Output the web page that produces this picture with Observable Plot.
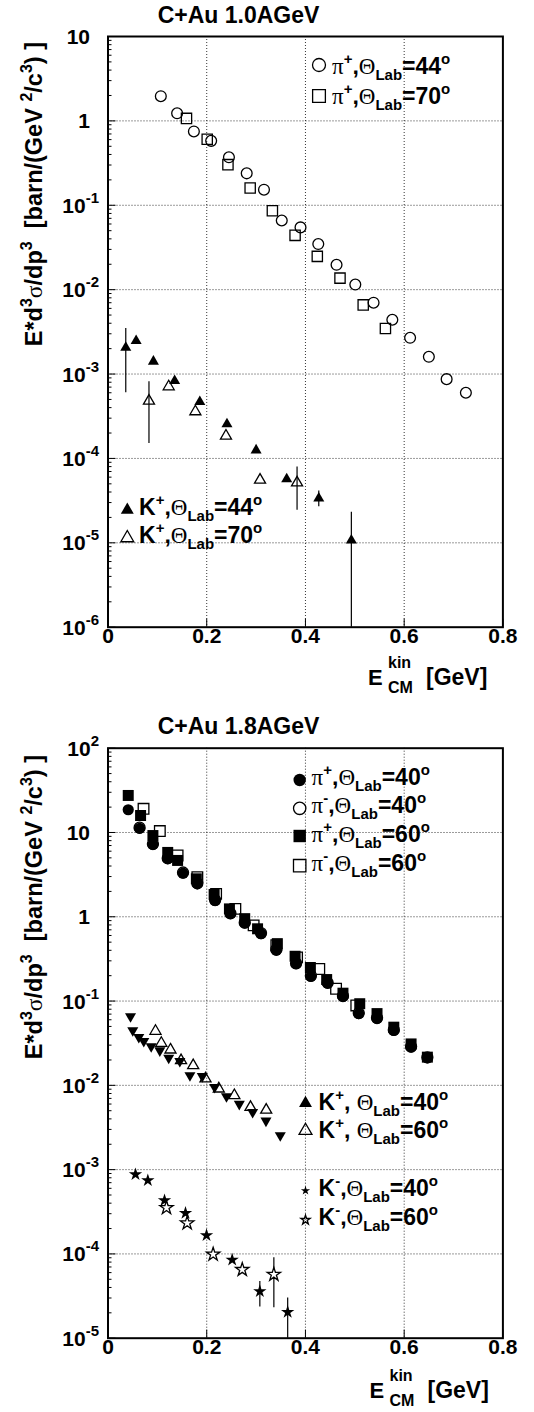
<!DOCTYPE html>
<html><head><meta charset="utf-8">
<script src="https://cdn.jsdelivr.net/npm/d3@7"></script>
<script src="https://cdn.jsdelivr.net/npm/@observablehq/plot@0.6"></script>
<style>
html,body{margin:0;padding:0;background:#fff;}
#wrap{position:relative;width:534px;height:1412px;overflow:hidden;}
#wrap svg{position:absolute;left:0;}
</style></head><body><div id="wrap"></div>
<script>
// ---------- DATA: panel 1 (C+Au 1.0 AGeV) ----------
const pip44_x = [0.107,0.140,0.174,0.209,0.245,0.281,0.316,0.352,0.390,0.426,0.463,0.501,0.538,0.576,0.612,0.650,0.686,0.725];
const pip44_y = [1.96,1.23,0.75,0.58,0.37,0.239,0.153,0.066,0.0547,0.0347,0.0197,0.0115,0.0070,0.0044,0.00269,0.0016,0.00087,0.0006];
const pip70_x = [0.159,0.201,0.243,0.288,0.333,0.379,0.424,0.470,0.517,0.562];
const pip70_y = [1.07,0.605,0.303,0.16,0.086,0.044,0.0248,0.0137,0.0066,0.00347];
const kp44_x = [0.036,0.057,0.092,0.135,0.186,0.241,0.300,0.362,0.427,0.493];
const kp44_y = [0.00206,0.00248,0.00141,0.00083,0.000468,0.000255,0.000125,5.7e-5,3.37e-5,1.07e-5];
const kp44_err_x = [0.036,0.427,0.493];
const kp44_err_lo = [0.0006,2.68e-5,1e-7];
const kp44_err_hi = [0.00347,4.1e-5,2.3e-5];
const kp70_x = [0.083,0.123,0.177,0.239,0.308,0.383];
const kp70_y = [0.00048,0.00071,0.000359,0.000185,5.56e-5,5.16e-5];
const kp70_err_x = [0.083,0.383];
const kp70_err_lo = [0.00015,2.43e-5];
const kp70_err_hi = [0.00081,7.9e-5];

// ---------- DATA: panel 2 (C+Au 1.8 AGeV) ----------
const pip60_x = [0.041,0.066,0.091,0.121,0.141,0.179,0.215,0.246,0.277,0.303,0.343,0.379,0.410,0.443,0.476,0.510,0.545,0.579,0.614,0.647];
const pip60_y = [27.5,15.9,9.2,5.8,4.66,2.82,1.84,1.24,0.95,0.72,0.48,0.34,0.25,0.18,0.124,0.093,0.071,0.049,0.031,0.0216];
const pip40_x = [0.041,0.064,0.091,0.121,0.152,0.181,0.217,0.248,0.277,0.310,0.341,0.381,0.411,0.445,0.476,0.508,0.545,0.579,0.614,0.647];
const pip40_y = [18.6,11.2,7.2,4.88,3.29,2.46,1.56,1.09,0.84,0.63,0.40,0.277,0.196,0.163,0.113,0.071,0.062,0.0448,0.0284,0.0212];
const pim60_x = [0.072,0.105,0.141,0.181,0.219,0.258,0.295,0.341,0.383,0.428,0.462,0.503];
const pim60_y = [19.1,10.4,5.33,2.95,1.87,1.24,0.79,0.46,0.33,0.24,0.14,0.0887];
const pim40_x = [0.064,0.091,0.121,0.152,0.181,0.217,0.248,0.277,0.310,0.341,0.381,0.411,0.445,0.476,0.508,0.545,0.579,0.614,0.647];
const pim40_y = [11.4,7.3,4.95,3.35,2.5,1.58,1.1,0.85,0.64,0.41,0.28,0.2,0.165,0.115,0.072,0.063,0.0455,0.0288,0.0215];
const kp40_x = [0.0456,0.0502,0.0624,0.0725,0.0875,0.105,0.123,0.1455,0.166,0.191,0.216,0.240,0.266,0.293,0.320,0.349];
const kp40_y = [0.0656,0.0448,0.0373,0.0334,0.0289,0.0259,0.0212,0.0194,0.0131,0.0128,0.0095,0.0074,0.0060,0.0048,0.0038,0.00255];
const kp60_x = [0.0962,0.108,0.1266,0.148,0.1726,0.1975,0.2245,0.256,0.2887,0.3205];
const kp60_y = [0.044,0.0317,0.0264,0.0197,0.0172,0.012,0.0091,0.0076,0.0055,0.0051];
const km40_x = [0.0557,0.0807,0.1145,0.157,0.1996,0.2516,0.3076,0.364];
const km40_y = [0.000877,0.000745,0.000431,0.000305,0.000166,8.5e-5,3.6e-5,2.04e-5];
const km40_err_x = [0.3076,0.364];
const km40_err_lo = [2.34e-5,1e-6];
const km40_err_hi = [4.7e-5,3.0e-5];
const km60_x = [0.1185,0.1604,0.213,0.272,0.336];
const km60_y = [0.000353,0.000232,9.9e-5,6.5e-5,5.7e-5];
const km60_err_x = [0.336];
const km60_err_lo = [2.3e-5];
const km60_err_hi = [9.0e-5];

// ---------- ticks / labels ----------
const xTicks = [0,0.2,0.4,0.6,0.8];
const xTickLabels = ["0","0.2","0.4","0.6","0.8"];
const xGrid = [0.2,0.4,0.6];
const p1Decades = [1e-6,1e-5,1e-4,1e-3,1e-2,1e-1,1,10];
const p1TickBase = ["10","10","10","10","10","10","1","10"];
const p1TickExp  = ["-6","-5","-4","-3","-2","-1","",""];
const p2Decades = [1e-5,1e-4,1e-3,1e-2,1e-1,1,10,100];
const p2TickBase = ["10","10","10","10","10","1","10","10"];
const p2TickExp  = ["-5","-4","-3","-2","-1","","","2"];

// ---------- helpers ----------
const SANS = "'Liberation Sans', Arial, Helvetica, sans-serif";
const SERIF = "'Liberation Serif', 'Times New Roman', serif";
const rows = (xs, ys) => xs.map((x, i) => ({x, y: ys[i]}));
const errRows = (xs, lo, hi) => xs.map((x, i) => ({x, lo: lo[i], hi: hi[i]}));
const triDown = {draw(ctx, size) {
  const y = -Math.sqrt(size / (Math.sqrt(3) * 3));
  ctx.moveTo(0, -2 * y); ctx.lineTo(Math.sqrt(3) * y, y); ctx.lineTo(-Math.sqrt(3) * y, y); ctx.closePath();
}};
function minors(decades) {
  const out = [];
  for (let i = 0; i < decades.length - 1; i++) for (let m = 2; m <= 9; m++) out.push(m * decades[i]);
  return out;
}
function rich(g, x, y, parts, size, anchor = "start", rotate = false) {
  const t = g.append("text").attr("font-family", SANS).attr("font-weight", "bold")
    .attr("font-size", size).attr("text-anchor", anchor).attr("fill", "#000")
    .style("white-space", "pre");
  if (rotate) t.attr("transform", `translate(${x},${y}) rotate(-90)`); else t.attr("x", x).attr("y", y);
  let cur = 0;
  for (const p of parts) {
    const s = t.append("tspan").text(p.t);
    const target = p.dy || 0;
    if (target - cur) s.attr("dy", target - cur);
    cur = target;
    if (p.size) s.attr("font-size", p.size);
    if (p.serif) s.attr("font-family", SERIF).attr("font-weight", "normal");
  }
  return t;
}
function sym(g, type, cx, cy, r, filled, rot = 0) {
  g.append("path").attr("d", d3.symbol(type, Math.PI * r * r)())
    .attr("transform", `translate(${cx},${cy}) rotate(${rot})`)
    .attr("fill", filled ? "#000" : "none").attr("stroke", "#000").attr("stroke-width", filled ? 0 : 1.3);
}
const SUP = 15, SUPDY = -10, SUBDY = 6;
function legendParts(part, sign, angle, spaced) {
  return [
    part === "pi" ? {t: "π", serif: true} : {t: "K"},
    {t: sign, dy: SUPDY, size: SUP},
    {t: spaced ? ", " : ","},
    {t: "Θ", serif: true},
    {t: "Lab", dy: SUBDY, size: SUP},
    {t: "=" + angle},
    {t: "o", dy: SUPDY, size: SUP}
  ];
}
const yTitleParts = [
  {t: "E*d"}, {t: "3", dy: SUPDY, size: 16}, {t: "σ", serif: true}, {t: "/dp"}, {t: "3", dy: SUPDY, size: 16},
  {t: "  [barn/(GeV "}, {t: "2", dy: SUPDY, size: 16}, {t: "/c"}, {t: "3", dy: SUPDY, size: 16}, {t: ") ]"}
];

const mL = 107.5, mR = 31.6, W = 534;
const frameW = W - mL - mR;

function basePanel({height, mt, mb, ydom, decades, marks}) {
  const frameH = height - mt - mb;
  const grid = {stroke: "#000", strokeWidth: 0.8, strokeDasharray: "1,2"};
  return Plot.plot({
    width: W, height, marginLeft: mL, marginRight: mR, marginTop: mt, marginBottom: mb,
    style: {background: "white", overflow: "visible"},
    x: {domain: [0, 0.8], axis: null},
    y: {type: "log", domain: ydom, axis: null},
    marks: [
      Plot.ruleX(xGrid, grid),
      Plot.ruleY(decades.slice(1, -1), grid),
      Plot.tickY(decades, {stroke: "#000", strokeWidth: 1, insetRight: frameW - 8}),
      Plot.tickY(minors(decades), {stroke: "#000", strokeWidth: 1, insetRight: frameW - 4}),
      Plot.tickX(xTicks, {stroke: "#000", strokeWidth: 1, insetTop: frameH - 8}),
      Plot.text(xTicks, {x: d => d, text: (d, i) => xTickLabels[i], frameAnchor: "bottom", dy: 16,
        fontSize: 21, fontWeight: "bold", fontFamily: SANS, fill: "#000"}),
      ...marks,
      Plot.frame({stroke: "#000", strokeWidth: 2})
    ]
  });
}
function yLabels(chart, decades, base, exp, g) {
  const ys = chart.scale("y");
  decades.forEach((d, i) => {
    const py = ys.apply(d);
    if (exp[i]) rich(g, 99, py + 8, [{t: base[i]}, {t: exp[i], dy: -10, size: 15}], 21, "end");
    else rich(g, 90, py + 8, [{t: base[i]}], 21, "end");
  });
}
function xTitle(g, x, y) {
  rich(g, x, y, [{t: "E"}], 22);
  rich(g, x + 20, y - 17, [{t: "kin"}], 16);
  rich(g, x + 20, y + 8, [{t: "CM"}], 16);
  rich(g, x + 58, y, [{t: "[GeV]"}], 23);
}

const wrap = d3.select("#wrap");

const open = (sym, r) => ({x: "x", y: "y", symbol: sym, r, fill: "none", stroke: "#000", strokeWidth: 1.3});
const full = (sym, r) => ({x: "x", y: "y", symbol: sym, r, fill: "#000", stroke: "none"});
const errMark = (data) => Plot.ruleX(data, {x: "x", y1: "lo", y2: "hi", stroke: "#000", strokeWidth: 1.2, clip: true});

// ---------- panel 1 ----------
const c1 = basePanel({
  height: 700, mt: 36, mb: 73.3, ydom: [1e-6, 10], decades: p1Decades,
  marks: [
    errMark(errRows(kp44_err_x, kp44_err_lo, kp44_err_hi)),
    errMark(errRows(kp70_err_x, kp70_err_lo, kp70_err_hi)),
    Plot.dot(rows(pip44_x, pip44_y), open("circle", 5.4)),
    Plot.dot(rows(pip70_x, pip70_y), open("square", 5.8)),
    Plot.dot(rows(kp44_x, kp44_y), full("triangle", 4.1)),
    Plot.dot(rows(kp70_x, kp70_y), open("triangle", 4.1))
  ]
});
c1.style.top = "0px";
wrap.node().appendChild(c1);
{
  const g = d3.select(c1).append("g");
  yLabels(c1, p1Decades, p1TickBase, p1TickExp, g);
  rich(g, 238.5, 23, [{t: "C+Au 1.0AGeV"}], 23, "middle");
  rich(g, 42, 42, yTitleParts, 23.5, "end", true);
  xTitle(g, 368, 685);
  sym(g, d3.symbolCircle, 319, 65, 6.5, false);
  rich(g, 332, 74, legendParts("pi", "+", "44", false), 23);
  sym(g, d3.symbolSquare, 319, 96, 7.2, false);
  rich(g, 332, 104, legendParts("pi", "+", "70", false), 23);
  sym(g, d3.symbolTriangle, 127.3, 510, 4.8, true);
  rich(g, 139, 515, legendParts("K", "+", "44", false), 23);
  sym(g, d3.symbolTriangle, 127.3, 538, 4.8, false);
  rich(g, 139, 543, legendParts("K", "+", "70", false), 23);
}

// ---------- panel 2 ----------
const c2 = basePanel({
  height: 712, mt: 47.7, mb: 74.3, ydom: [1e-5, 100], decades: p2Decades,
  marks: [
    errMark(errRows(km40_err_x, km40_err_lo, km40_err_hi)),
    errMark(errRows(km60_err_x, km60_err_lo, km60_err_hi)),
    Plot.dot(rows(pim60_x, pim60_y), {...open("square", 6.0), fill: "white"}),
    Plot.dot(rows(pim40_x, pim40_y), {...open("circle", 5.5), fill: "white"}),
    Plot.dot(rows(pip60_x, pip60_y), full("square", 6.2)),
    Plot.dot(rows(pip40_x, pip40_y), full("circle", 5.6)),
    Plot.dot(rows(kp40_x, kp40_y), full(triDown, 4.1)),
    Plot.dot(rows(kp60_x, kp60_y), open("triangle", 4.1)),
    Plot.dot(rows(km40_x, km40_y), full("star", 4.2)),
    Plot.dot(rows(km60_x, km60_y), {...open("star", 4.2), fill: "white"})
  ]
});
c2.style.top = "700px";
wrap.node().appendChild(c2);
{
  const g = d3.select(c2).append("g");
  const o = 700;
  yLabels(c2, p2Decades, p2TickBase, p2TickExp, g);
  rich(g, 238.5, 734 - o, [{t: "C+Au 1.8AGeV"}], 23, "middle");
  rich(g, 42, 755 - o, yTitleParts, 23.5, "end", true);
  xTitle(g, 369.5, 1398 - o);
  sym(g, d3.symbolCircle, 299.7, 780 - o, 6.2, true);
  rich(g, 311.6, 785 - o, legendParts("pi", "+", "40", false), 23);
  sym(g, d3.symbolCircle, 299.7, 808.3 - o, 6.2, false);
  rich(g, 311.6, 813.3 - o, legendParts("pi", "-", "40", false), 23);
  sym(g, d3.symbolSquare, 299.7, 836 - o, 7.0, true);
  rich(g, 311.6, 841.7 - o, legendParts("pi", "+", "60", false), 23);
  sym(g, d3.symbolSquare, 299.7, 865.7 - o, 7.0, false);
  rich(g, 311.6, 870.7 - o, legendParts("pi", "-", "60", false), 23);
  sym(g, d3.symbolTriangle, 305.5, 1103.3 - o, 4.8, true);
  rich(g, 318.5, 1110 - o, legendParts("K", "+", "40", true), 23);
  sym(g, d3.symbolTriangle, 305.5, 1130.7 - o, 4.8, false);
  rich(g, 318.5, 1138.3 - o, legendParts("K", "+", "60", true), 23);
  sym(g, d3.symbolStar, 305.5, 1190.7 - o, 2.9, true);
  rich(g, 318.5, 1196 - o, legendParts("K", "-", "40", false), 23);
  sym(g, d3.symbolStar, 305.5, 1220 - o, 2.9, false);
  rich(g, 318.5, 1225 - o, legendParts("K", "-", "60", false), 23);
}
</script>
</body></html>
